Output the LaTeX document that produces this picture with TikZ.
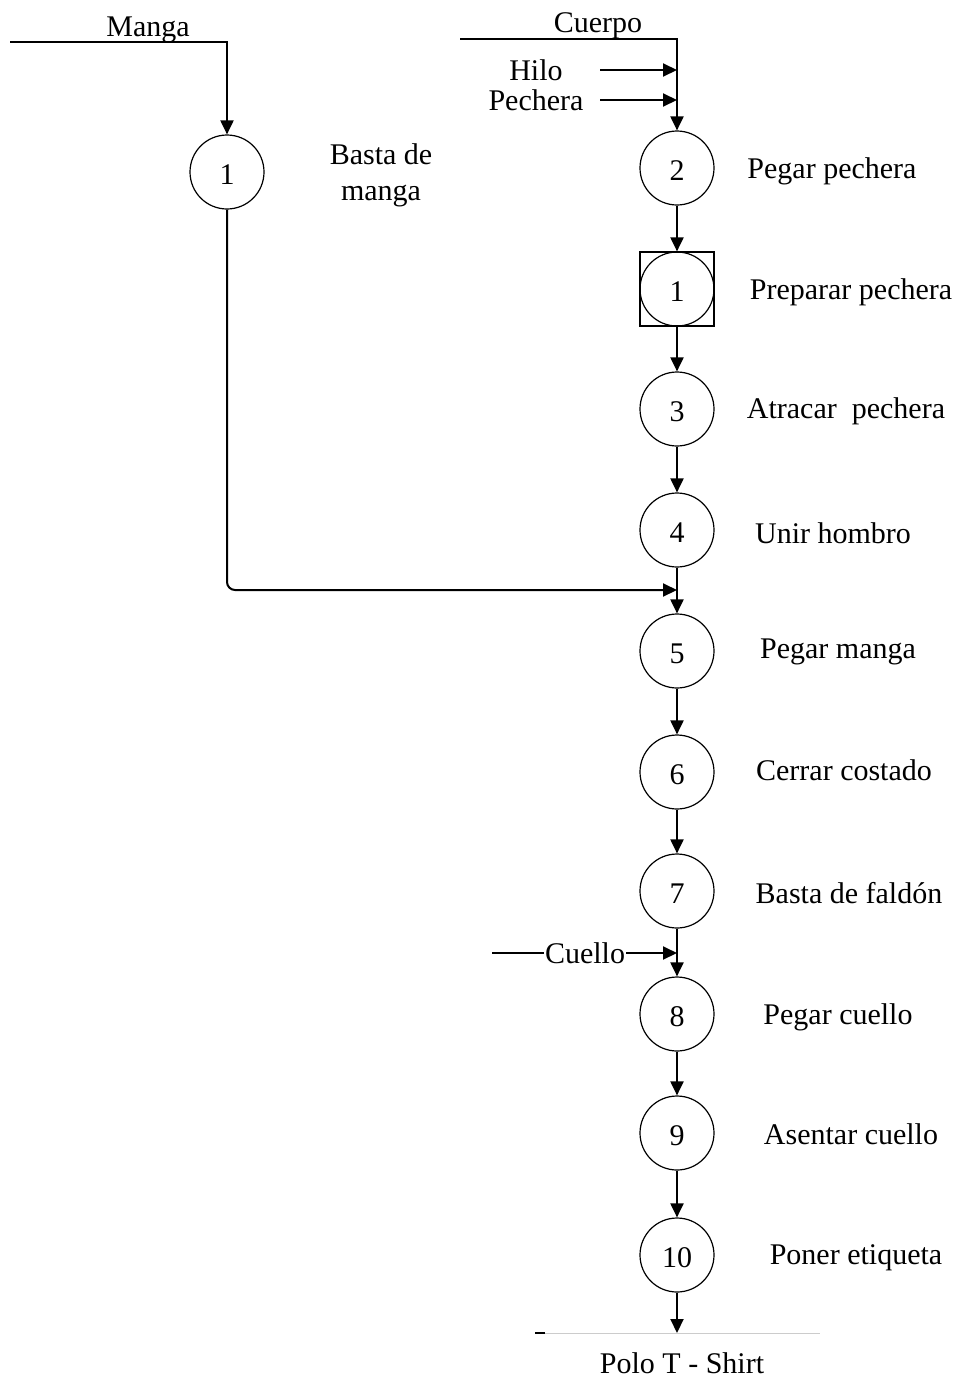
\documentclass[tikz,border=0pt]{standalone}
\usepackage{fontspec}
\setmainfont{Liberation Serif}
\usetikzlibrary{arrows.meta}
\begin{document}
\begin{tikzpicture}[x=1pt,y=-1pt,
  op/.style={circle,draw,line width=1.2pt,minimum size=74pt,inner sep=0pt,font=\fontsize{30}{34}\selectfont,text height=25pt,text depth=0pt},
  lbl/.style={font=\fontsize{30}{34}\selectfont,inner sep=1pt},
  rlbl/.style={lbl,yshift=-3pt},
  flow/.style={line width=2pt,-{Triangle[length=14pt,width=13pt]}},
  plain/.style={line width=2pt}]
\useasboundingbox (0,0) rectangle (958,1398);
% main column
\node[op] (c2) at (677,168) {2};
\node[op] (c1b) at (677,289) {1};
\node[draw,line width=1.2pt,minimum size=74pt,inner sep=0pt] (sq) at (677,289) {};
\node[op] (c3) at (677,409) {3};
\node[op] (c4) at (677,530) {4};
\node[op] (c5) at (677,651) {5};
\node[op] (c6) at (677,772) {6};
\node[op] (c7) at (677,891) {7};
\node[op] (c8) at (677,1014) {8};
\node[op] (c9) at (677,1133) {9};
\node[op] (c10) at (677,1255) {10};
\node[op] (m1) at (227,172) {1};
% labels
\node[lbl] (lm) at (381,176) {\begin{tabular}{c}Basta de\\[2pt]manga\end{tabular}};
\node[rlbl] (l2) at (832,168) {Pegar pechera};
\node[rlbl] (l1b) at (851,289) {Preparar pechera};
\node[rlbl] (l3) at (846,408) {Atracar\ \ pechera};
\node[rlbl] (l4) at (833,530) {Unir hombro};
\node[rlbl] (l5) at (838,649) {Pegar manga};
\node[rlbl] (l6) at (844,767) {Cerrar costado};
\node[rlbl] (l7) at (849,890) {Basta de faldón};
\node[rlbl] (l8) at (838,1014) {Pegar cuello};
\node[rlbl] (l9) at (851,1131) {Asentar cuello};
\node[rlbl] (l10) at (856,1255) {Poner etiqueta};
% inputs
\coordinate (ms) at (10,42);
\coordinate (mc) at (227,42);
\node[lbl] (tm) at (148,30) {Manga};
\draw[flow] (ms) -- (mc) -- (m1.north);
\coordinate (cs) at (460,39);
\coordinate (cc) at (677,39);
\node[lbl] (tc) at (598,26) {Cuerpo};
\draw[flow] (cs) -- (cc) -- (c2.north);
\node[lbl] (th) at (536,70) {Hilo};
\node[lbl] (tp) at (536,100) {Pechera};
\coordinate (hs) at (600,70);
\coordinate (he) at (677,70);
\coordinate (ps) at (600,100);
\coordinate (pe) at (677,100);
\draw[flow] (hs) -- (he);
\draw[flow] (ps) -- (pe);
% chain
\draw[flow] (c2.south) -- (sq.north);
\draw[flow] (sq.south) -- (c3.north);
\draw[flow] (c3.south) -- (c4.north);
\draw[flow] (c4.south) -- (c5.north);
\draw[flow] (c5.south) -- (c6.north);
\draw[flow] (c6.south) -- (c7.north);
\draw[flow] (c7.south) -- (c8.north);
\draw[flow] (c8.south) -- (c9.north);
\draw[flow] (c9.south) -- (c10.north);
% manga to 5
\coordinate (mj) at (677,590);
\draw[flow,rounded corners=8pt] (m1.south) |- (mj);
% cuello
\coordinate (cus) at (492,953);
\coordinate (cue) at (677,953);
\draw[flow] (cus) -- (cue);
\node[lbl,fill=white,inner sep=1pt] (tcu) at (585,953) {Cuello};
% output
\coordinate (out) at (677,1333);
\draw[flow] (c10.south) -- (out);
\coordinate (bl) at (535,1333);
\coordinate (br) at (820,1333);
\draw[gray!40,line width=0.8pt] (bl) -- (br);
\draw[line width=2pt] (535,1333) -- (545,1333);
\node[lbl] (tpolo) at (682,1363) {Polo T - Shirt};
\end{tikzpicture}
\end{document}
